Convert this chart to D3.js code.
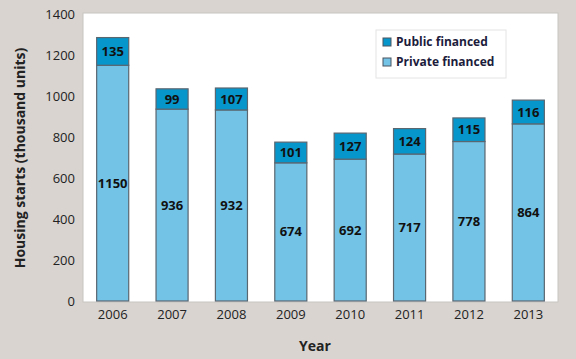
<!DOCTYPE html>
<html><head><meta charset="utf-8">
<script src="https://cdn.jsdelivr.net/npm/d3@7"></script>
<style>body{margin:0;background:#d9d4d0;}svg{display:block;}</style>
</head><body>
<svg id="c" width="576" height="359"></svg>
<script>
const years = ["2006","2007","2008","2009","2010","2011","2012","2013"];
const privateFinanced = [1150,936,932,674,692,717,778,864];
const publicFinanced = [135,99,107,101,127,124,115,116];
const yTicks = [0,200,400,600,800,1000,1200,1400];
const seriesNames = ["Public financed","Private financed"];
const colors = {pub:"#0796cc", priv:"#73c3e7"};

const svg = d3.select("#c");
const W=576,H=359;
svg.append("rect").attr("width",W).attr("height",H).attr("fill","#d9d4d0");
const L=83,R=558,T=13,B=302;
svg.append("rect").attr("x",L).attr("y",T).attr("width",R-L).attr("height",B-T)
  .attr("fill","#fff").attr("stroke","#c8c4c0").attr("stroke-width",1);

const x = d3.scaleBand().domain(years).range([L,R]).paddingInner(0.46).paddingOuter(0.23);
const y = d3.scaleLinear().domain([0,1400]).range([301,14]);

const font = "'Open Sans', 'Noto Sans', sans-serif";

const yAxis = d3.axisLeft(y).tickValues(yTicks).tickFormat(d3.format("d")).tickSize(0).tickPadding(0);
const ya = svg.append("g").attr("transform",`translate(75,0)`).call(yAxis);
ya.select(".domain").remove();
ya.selectAll("text").attr("font-family",font).attr("font-size",13).attr("fill","#222");

const xAxis = d3.axisBottom(x).tickSize(0).tickPadding(0);
const xa = svg.append("g").attr("transform",`translate(0,310)`).call(xAxis);
xa.select(".domain").remove();
xa.selectAll("text").attr("font-family",font).attr("font-size",13).attr("fill","#222").attr("dy","0.71em");

const g = svg.append("g");
years.forEach((yr,i)=>{
  const p = privateFinanced[i], q = publicFinanced[i];
  g.append("rect").attr("x",x(yr)).attr("width",x.bandwidth())
    .attr("y",y(p)).attr("height",y(0)-y(p))
    .attr("fill",colors.priv).attr("stroke","#5a6670").attr("stroke-width",1.2);
  g.append("rect").attr("x",x(yr)).attr("width",x.bandwidth())
    .attr("y",y(p+q)).attr("height",y(p)-y(p+q))
    .attr("fill",colors.pub).attr("stroke","#5a6670").attr("stroke-width",1.2);
  g.append("text").attr("x",x(yr)+x.bandwidth()/2).attr("y",y(p/2)).attr("dy","0.35em")
    .attr("text-anchor","middle").attr("font-family",font).attr("font-weight","bold")
    .attr("font-size",13).attr("fill","#111").text(p);
  g.append("text").attr("x",x(yr)+x.bandwidth()/2).attr("y",y(p+q/2)).attr("dy","0.35em")
    .attr("text-anchor","middle").attr("font-family",font).attr("font-weight","bold")
    .attr("font-size",13).attr("fill","#111").text(q);
});

svg.append("text").attr("x",315).attr("y",351).attr("text-anchor","middle")
  .attr("font-family",font).attr("font-weight","bold").attr("font-size",14).attr("fill","#222").text("Year");
svg.append("text").attr("transform","translate(25,158) rotate(-90)").attr("text-anchor","middle")
  .attr("font-family",font).attr("font-weight","bold").attr("font-size",14).attr("fill","#222")
  .text("Housing starts (thousand units)");

const lg = svg.append("g");
lg.append("rect").attr("x",376).attr("y",30).attr("width",130).attr("height",48)
  .attr("fill","#fff").attr("stroke","#e4e4e4");
[colors.pub,colors.priv].forEach((c,i)=>{
  lg.append("rect").attr("x",383).attr("y",38+i*20).attr("width",8).attr("height",8)
    .attr("fill",c).attr("stroke","#4a5560").attr("stroke-width",1);
  lg.append("text").attr("x",396).attr("y",42+i*20).attr("dy","0.35em")
    .attr("font-family",font).attr("font-weight","bold").attr("font-size",12).attr("fill","#1c1c3c")
    .text(seriesNames[i]);
});
</script>
</body></html>
